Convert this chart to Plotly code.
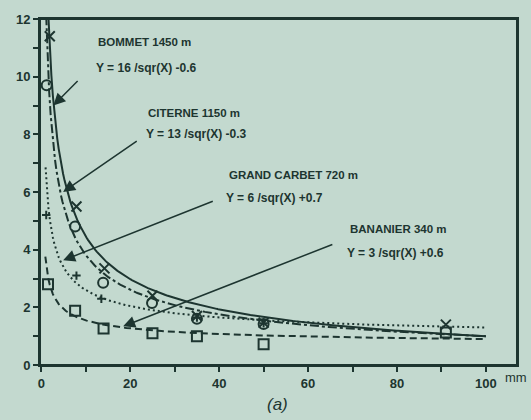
import numpy as np
import plotly.graph_objects as go

bommet_x = [1.9, 7.9, 14.2, 25, 35, 50, 91]
bommet_y = [11.4, 5.5, 3.35, 2.4, 1.7, 1.47, 1.4]
citerne_x = [1.2, 7.6, 13.9, 24.9, 35, 50]
citerne_y = [9.7, 4.8, 2.85, 2.15, 1.6, 1.42]
carbet_x = [1.1, 7.9, 13.5, 35, 50]
carbet_y = [5.2, 3.1, 2.3, 1.65, 1.45]
bananier_x = [1.5, 7.6, 14, 25, 35, 50, 91]
bananier_y = [2.8, 1.88, 1.27, 1.1, 1.0, 0.72, 1.13]

# fitted curves as printed on the chart: Y = a / sqr(X) + b
stations = ["BOMMET 1450 m", "CITERNE 1150 m", "GRAND CARBET 720 m", "BANANIER 340 m"]
equations = ["Y = 16 /sqr(X) -0.6", "Y = 13 /sqr(X) -0.3", "Y = 6 /sqr(X) +0.7", "Y = 3 /sqr(X) +0.6"]
fit_a = [16, 13, 6, 3]
fit_b = [-0.6, -0.3, 0.7, 0.6]
fit_x0 = [1.6, 1.1, 0.95, 0.9]

x_ticks = [0, 10, 20, 30, 40, 50, 60, 70, 80, 90, 100]
x_ticktext = ["0", "", "20", "", "40", "", "60", "", "80", "", "100"]
y_ticks = list(range(13))
y_ticktext = [str(v) if v % 2 == 0 else "" for v in y_ticks]

INK = "#1d3530"
BG = "#c3d9cf"
dashes = ["solid", "9px,3px,3px,3px", "2px,3px", "7px,4px"]

fig = go.Figure()

for a, b, x0, dash in zip(fit_a, fit_b, fit_x0, dashes):
    xs = np.linspace(x0, 100, 300)
    fig.add_trace(go.Scatter(x=xs, y=a / np.sqrt(xs) + b, mode="lines",
                             line=dict(color=INK, width=2, dash=dash),
                             hoverinfo="skip"))

marker_sets = [
    (bommet_x, bommet_y, "x-thin-open", 10),
    (citerne_x, citerne_y, "circle-open", 10),
    (carbet_x, carbet_y, "cross-thin-open", 6),
    (bananier_x, bananier_y, "square-open", 10),
]
for xs, ys, sym, size in marker_sets:
    fig.add_trace(go.Scatter(x=xs, y=ys, mode="markers",
                             marker=dict(symbol=sym, size=size, color=INK,
                                         line=dict(color=INK, width=2))))

# labels and arrows (tail -> head, data coordinates)
label_pos = [(12.4, 11.2, 10.3), (23.6, 8.74, 8.02), (41.8, 6.58, 5.79), (69, 4.7, 3.87)]
arrow_tail = [(8.5, 9.9), (21.8, 7.8), (38.9, 5.7), (65.8, 4.2)]
arrow_head = [(2.7, 9.0), (4.9, 6.0), (4.9, 3.63), (18.4, 1.34)]

for name, eq, (lx, ly1, ly2), (tx, ty), (hx, hy) in zip(stations, equations, label_pos, arrow_tail, arrow_head):
    fig.add_annotation(x=lx, y=ly1, text=name, showarrow=False, xanchor="left",
                       font=dict(size=11.5, color=INK, weight="bold"))
    fig.add_annotation(x=lx - 0.6, y=ly2, text=eq, showarrow=False, xanchor="left",
                       font=dict(size=12, color=INK, weight="bold"))
    fig.add_annotation(x=hx, y=hy, ax=tx, ay=ty, axref="x", ayref="y", text="",
                       showarrow=True, arrowhead=2, arrowsize=1.6, arrowwidth=1.5,
                       arrowcolor=INK)

fig.add_annotation(x=1.025, y=-0.037, xref="paper", yref="paper", text="mm",
                   showarrow=False, xanchor="right", yanchor="middle",
                   font=dict(size=13, color=INK))
fig.add_annotation(text="<i>(a)</i>", x=0.497, y=-0.114, xref="paper", yref="paper",
                   showarrow=False, yanchor="middle", font=dict(size=17, color=INK))

# frame round the plot area
fig.add_shape(type="rect", xref="paper", yref="paper", x0=0, y0=0, x1=1, y1=1,
              line=dict(color=INK, width=2), layer="above")

fig.update_layout(
    width=531, height=420,
    margin=dict(l=40, r=14, t=15, b=55),
    paper_bgcolor=BG, plot_bgcolor=BG,
    showlegend=False,
    font=dict(family="Liberation Sans, Arial, sans-serif", color=INK, size=12),
)
fig.update_xaxes(range=[-0.3, 107], tickvals=x_ticks, ticktext=x_ticktext,
                 ticks="outside", ticklen=5, tickwidth=1.5, tickcolor=INK,
                 tickfont=dict(size=13, weight="bold"),
                 showline=True, linecolor=INK, linewidth=2, mirror=True,
                 showgrid=False, zeroline=False)
fig.update_yaxes(range=[0, 12], tickvals=y_ticks, ticktext=y_ticktext,
                 ticks="outside", ticklen=5, tickwidth=1.5, tickcolor=INK,
                 tickfont=dict(size=13, weight="bold"),
                 showline=True, linecolor=INK, linewidth=2, mirror=True,
                 showgrid=False, zeroline=False)

# page has a default 8px body margin; drop it so the figure fills the window
fig.write_html("out.html", config={"displayModeBar": False},
               post_script="document.body.style.margin='0';")
